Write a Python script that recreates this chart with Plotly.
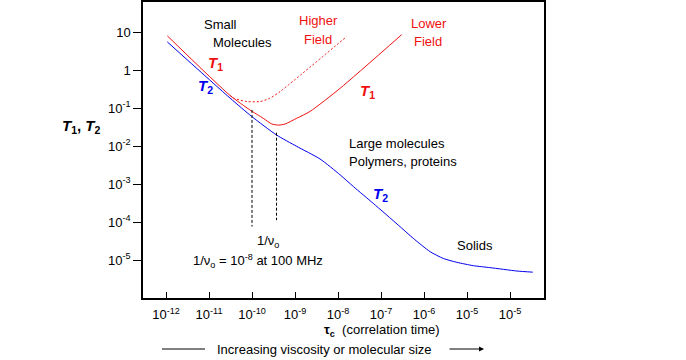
import numpy as np
import plotly.graph_objects as go

# ---- data (log10 values) ----
t1_low_x = [-11.97, -10.51, -10.05, -9.74, -9.54, -9.38, -9.23, -8.96, -8.65, -7.95, -6.52]
t1_low_y = [0.90, -0.67, -1.05, -1.27, -1.42, -1.45, -1.42, -1.27, -1.09, -0.48, 0.93]

t1_high_x = [-10.51, -10.43, -10.12, -9.81, -9.58, -9.35, -7.80]
t1_high_y = [-0.67, -0.74, -0.83, -0.83, -0.74, -0.57, 0.88]

t2_x = [-11.97, -10.51, -10.01, -9.43, -8.96, -8.42, -7.95, -7.64, -7.18, -6.60,
        -6.25, -5.86, -5.55, -5.24, -4.85, -4.47, -3.84, -3.47]
t2_y = [0.74, -0.74, -1.22, -1.71, -2.01, -2.34, -2.76, -3.07, -3.51, -4.08,
        -4.43, -4.78, -4.96, -5.06, -5.15, -5.20, -5.29, -5.32]

marker1_x = [-10.0, -10.0]
marker1_y = [-1.05, -4.12]
marker2_x = [-9.43, -9.43]
marker2_y = [-1.65, -3.95]

x_tick_vals = [-12, -11, -10, -9, -8, -7, -6, -5, -4]
x_tick_text = ["10<sup>-12</sup>", "10<sup>-11</sup>", "10<sup>-10</sup>", "10<sup>-9</sup>",
               "10<sup>-8</sup>", "10<sup>-7</sup>", "10<sup>-6</sup>", "10<sup>-5</sup>",
               "10<sup>-5</sup>"]
y_tick_vals = [1, 0, -1, -2, -3, -4, -5]
y_tick_text = ["10", "1", "10<sup>-1</sup>", "10<sup>-2</sup>", "10<sup>-3</sup>",
               "10<sup>-4</sup>", "10<sup>-5</sup>"]

RED = "#f01010"
BLUE = "#0000ee"
FONT = "Liberation Sans, Arial, sans-serif"

def p(v):
    return [10 ** a for a in v]

fig = go.Figure()
fig.add_trace(go.Scatter(x=p(t1_low_x), y=p(t1_low_y), mode="lines",
                         line=dict(color=RED, width=1, shape="spline", smoothing=0.6)))
fig.add_trace(go.Scatter(x=p(t1_high_x), y=p(t1_high_y), mode="lines",
                         line=dict(color=RED, width=1, dash="2px,2px", shape="spline", smoothing=0.6)))
fig.add_trace(go.Scatter(x=p(t2_x), y=p(t2_y), mode="lines",
                         line=dict(color=BLUE, width=1, shape="spline", smoothing=0.6)))
for mx, my in [(marker1_x, marker1_y), (marker2_x, marker2_y)]:
    fig.add_trace(go.Scatter(x=p(mx), y=p(my), mode="lines",
                             line=dict(color="black", width=1, dash="3px,2px")))

L, R, T, B = 143, 142, 2, 62
W, H = 686, 360
pw, ph = W - L - R, H - T - B

def px(xpix):
    return (xpix - L) / pw

def py(ypix):
    return (H - B - ypix) / ph

ann = []

def txt(x, y, s, color="black", size=13, xanchor="center"):
    ann.append(dict(text=s, showarrow=False, font=dict(color=color, size=size, family=FONT),
                    xanchor=xanchor, yanchor="middle", x=px(x), y=py(y),
                    xref="paper", yref="paper"))

# text labels (pixel positions converted to paper)
txt(220, 24, "Small")
txt(242, 43, "Molecules")
txt(318, 21, "Higher", color=RED)
txt(318, 39, "Field", color=RED)
txt(429, 23, "Lower", color=RED)
txt(428, 42, "Field", color=RED)
txt(215, 64, "<b><i>T</i><sub>1</sub></b>", color=RED, size=15)
txt(205, 86, "<b><i>T</i><sub>2</sub></b>", color=BLUE, size=15)
txt(367, 91, "<b><i>T</i><sub>1</sub></b>", color=RED, size=15)
txt(380, 194, "<b><i>T</i><sub>2</sub></b>", color=BLUE, size=15)
txt(347, 143, "Large molecules", xanchor="left")
txt(347, 161, "Polymers, proteins", xanchor="left")
txt(475, 245, "Solids")
txt(268, 241, "1/ν<sub>o</sub>")
txt(258, 261, "1/ν<sub>o</sub> = 10<sup>-8</sup> at 100 MHz")
txt(81, 127, "<b><i>T</i><sub>1</sub>, <i>T</i><sub>2</sub></b>", size=15)
txt(382, 330, "<b>τ<sub>c</sub></b>  (correlation time)")
txt(324, 349, "Increasing viscosity or molecular size")

# arrow at the bottom
ann.append(dict(x=px(484), y=py(349), ax=-36, ay=0, xref="paper", yref="paper",
                axref="pixel", ayref="pixel", showarrow=True, arrowhead=2, arrowsize=1,
                arrowwidth=1, arrowcolor="black", text=""))

shapes = [dict(type="line", xref="paper", yref="paper", x0=px(162), x1=px(205),
               y0=py(349), y1=py(349), line=dict(color="black", width=1))]

fig.update_layout(
    width=W, height=H, margin=dict(l=L, r=R, t=T, b=B, autoexpand=False),
    paper_bgcolor="white", plot_bgcolor="white", showlegend=False,
    font=dict(family=FONT, size=13, color="black"),
    annotations=ann, shapes=shapes,
)
fig.update_xaxes(type="log", range=[-12.535, -3.21], tickvals=p(x_tick_vals), ticktext=x_tick_text,
                 ticks="inside", ticklen=6, tickcolor="black", showline=True, linecolor="black",
                 linewidth=1.5, mirror=True, showgrid=False, zeroline=False,
                 tickfont=dict(size=13, family=FONT), ticklabelstandoff=4)
fig.update_yaxes(type="log", range=[-6.0, 1.79], tickvals=p(y_tick_vals), ticktext=y_tick_text,
                 ticks="outside", ticklen=8, tickcolor="black", showline=True, linecolor="black",
                 linewidth=1.5, mirror=True, showgrid=False, zeroline=False,
                 tickfont=dict(size=13, family=FONT))

fig.write_html("out.html", config={"displayModeBar": False},
               post_script="document.body.style.margin='0';document.body.style.overflow='hidden';")
